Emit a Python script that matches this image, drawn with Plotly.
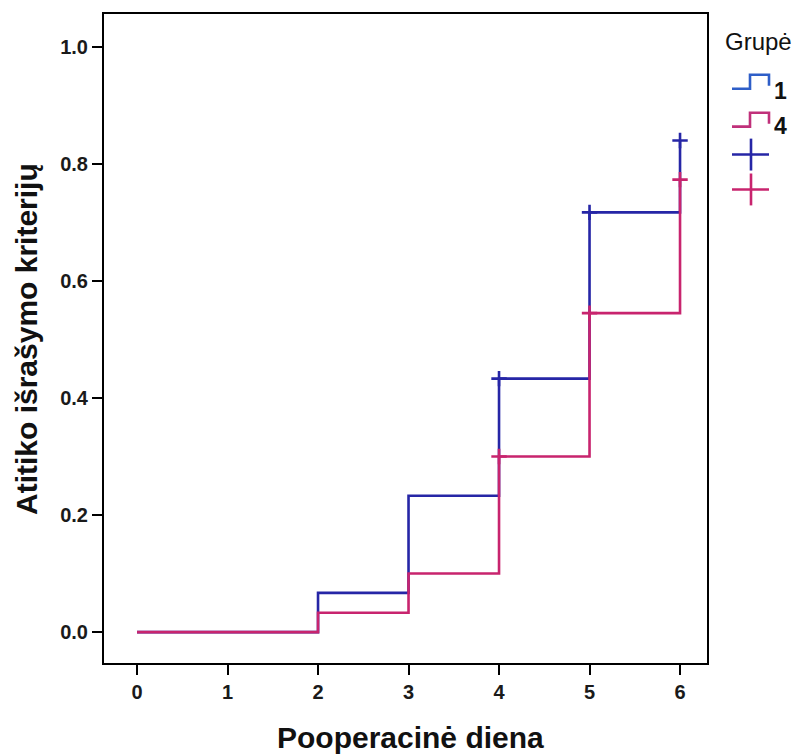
import plotly.graph_objects as go

days = [0, 2, 3, 4, 5, 6]
group1 = [0.0, 0.067, 0.233, 0.433, 0.717, 0.84]
group4 = [0.0, 0.033, 0.100, 0.300, 0.545, 0.773]
cens_days = [4, 5, 6]
cens1 = [0.433, 0.717, 0.84]
cens4 = [0.300, 0.545, 0.773]
x_ticks = [0, 1, 2, 3, 4, 5, 6]
y_ticks = [0.0, 0.2, 0.4, 0.6, 0.8, 1.0]
names = ["1", "4"]

BLUE = "#2626a6"
MAG = "#c8246e"
OFF = 8  # page body margin
W, H = 805 - OFF, 756 - OFF
# plot frame in page pixels
PL, PR, PT, PB = 104, 707, 12, 663
L, R, T, B = PL - OFF, PR - OFF, PT - OFF, PB - OFF
FONT = "Liberation Sans, Arial, sans-serif"

fig = go.Figure()
fig.add_trace(go.Scatter(x=days, y=group1, mode="lines", line=dict(color=BLUE, width=2.6, shape="hv"), showlegend=False))
fig.add_trace(go.Scatter(x=days, y=group4, mode="lines", line=dict(color=MAG, width=2.6, shape="hv"), showlegend=False))
fig.add_trace(go.Scatter(x=cens_days, y=cens1, mode="markers", marker=dict(symbol="cross-thin", size=11, line=dict(color=BLUE, width=2.6)), showlegend=False))
fig.add_trace(go.Scatter(x=cens_days, y=cens4, mode="markers", marker=dict(symbol="cross-thin", size=11, line=dict(color=MAG, width=2.6)), showlegend=False))

def px(x):
    return (x - PL) / (PR - PL)

def py(y):
    return (PB - y) / (PB - PT)

shapes = []
def step_icon(y_low, y_high, color):
    pts = [(732, y_low), (750, y_low), (750, y_high), (769, y_high), (769, y_low - 3)]
    path = "M " + " L ".join(f"{px(a)},{py(b)}" for a, b in pts)
    shapes.append(dict(type="path", xref="paper", yref="paper", path=path, line=dict(color=color, width=2.6)))

def plus_icon(yc, color):
    shapes.append(dict(type="line", xref="paper", yref="paper", x0=px(732), x1=px(769), y0=py(yc), y1=py(yc), line=dict(color=color, width=2.6)))
    shapes.append(dict(type="line", xref="paper", yref="paper", x0=px(751), x1=px(751), y0=py(yc - 16), y1=py(yc + 16), line=dict(color=color, width=2.6)))

step_icon(87, 73, "#2e5ec8")
step_icon(125, 111, "#c0307a")
plus_icon(153, BLUE)
plus_icon(188, MAG)

def ann(text, x, y, size, xanchor="center", weight="normal", angle=0):
    return dict(text=text, x=px(x), y=py(y), xref="paper", yref="paper", xanchor=xanchor, yanchor="middle",
                showarrow=False, textangle=angle, font=dict(size=size, color="#111", family=FONT, weight=weight))

annotations = [
    ann("Grupė", 723, 40, 24, xanchor="left"),
    ann(names[0], 772, 89, 23, xanchor="left", weight="bold"),
    ann(names[1], 772, 124, 23, xanchor="left", weight="bold"),
    ann("Pooperacinė diena", 410, 738, 30, weight="bold"),
    ann("Atitiko išrašymo kriterijų", 27, 338, 30, weight="bold", angle=-90),
]

fig.update_layout(
    width=W, height=H,
    margin=dict(l=L, r=W - R, t=T, b=H - B),
    plot_bgcolor="white", paper_bgcolor="white",
    shapes=shapes, annotations=annotations,
    font=dict(family=FONT, color="#222"),
)
fig.update_xaxes(
    range=[-0.365, 6.298], tickvals=x_ticks, ticktext=[str(v) for v in x_ticks],
    showgrid=False, zeroline=False, showline=True, mirror=True, linecolor="black", linewidth=2,
    ticks="outside", ticklen=10, tickwidth=2, tickcolor="black",
    tickfont=dict(size=20, color="#1a1a1a", weight="bold"),
)
fig.update_yaxes(
    range=[-0.0528, 1.056], tickvals=y_ticks, ticktext=[f"{v:.1f}" for v in y_ticks],
    showgrid=False, zeroline=False, showline=True, mirror=True, linecolor="black", linewidth=2,
    ticks="outside", ticklen=10, tickwidth=2, tickcolor="black",
    tickfont=dict(size=20, color="#1a1a1a", weight="bold"),
)

fig.write_html("out.html")
